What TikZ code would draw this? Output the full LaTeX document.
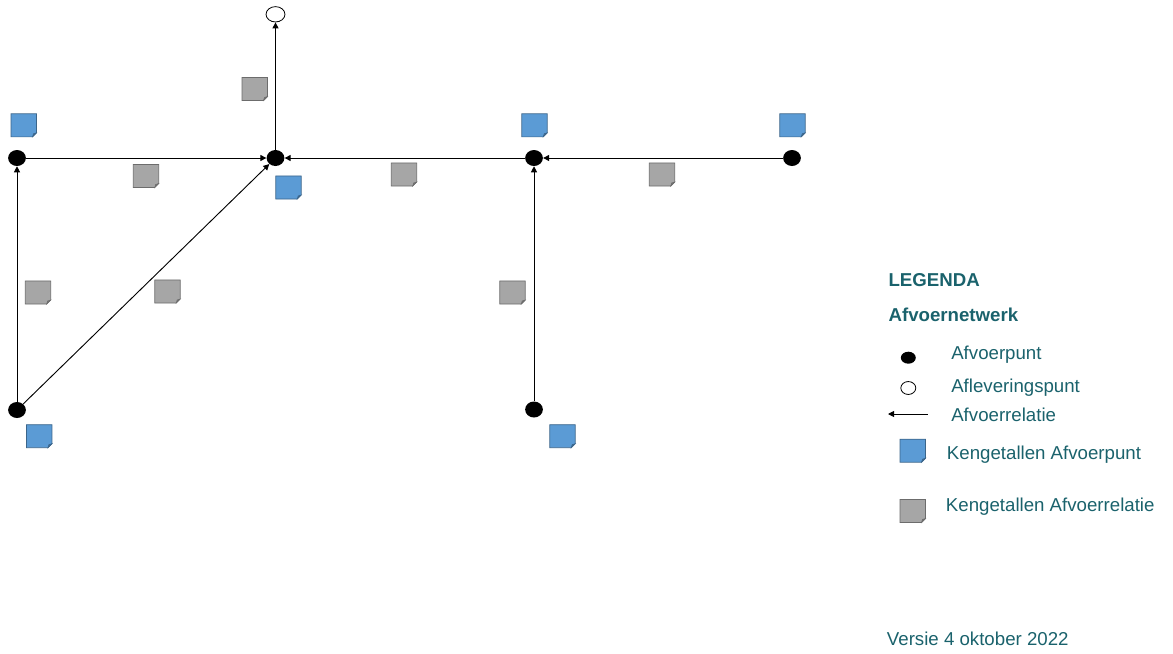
\documentclass[tikz,border=0pt]{standalone}
\usepackage{fontspec}
\setmainfont{Liberation Sans}
\usetikzlibrary{arrows.meta,shapes.geometric}
\definecolor{legendteal}{RGB}{26,98,108}
\definecolor{kpblue}{RGB}{91,155,213}
\definecolor{krgray}{RGB}{166,166,166}
\begin{document}
\begin{tikzpicture}[x=0.75pt,y=-0.75pt,
  punt/.style={ellipse,fill=black,inner sep=0pt,minimum width=13.3pt,minimum height=12pt},
  levering/.style={ellipse,draw=black,fill=white,line width=0.6pt,inner sep=0pt,
     minimum width=14.2pt,minimum height=11.5pt},
  relatie/.style={-{Triangle[length=4.5pt,width=4.5pt]},line width=0.7pt},
  kbox/.style={inner sep=0pt,outer sep=0pt,minimum width=19.1pt,minimum height=17.3pt},
  legtext/.style={anchor=base west,inner sep=0pt,text=legendteal,
     font=\fontsize{14pt}{17pt}\selectfont}]
 \useasboundingbox (0,0) rectangle (1173,653);
 % afvoerpunten en afleveringspunt
 \node[punt] (pA) at (17,158) {};
 \node[punt] (pB) at (275.5,158) {};
 \node[punt] (pC) at (534,158) {};
 \node[punt] (pD) at (792,158) {};
 \node[punt] (pE) at (17,410) {};
 \node[punt] (pF) at (534,409.5) {};
 \node[levering] (pG) at (275.5,14.3) {};
 % afvoerrelaties
 \draw[relatie] (pA) -- (pB);
 \draw[relatie] (pC) -- (pB);
 \draw[relatie] (pD) -- (pC);
 \draw[relatie] (pE) -- (pA);
 \draw[relatie] (pE) -- (pB);
 \draw[relatie] (pF) -- (pC);
 \draw[relatie] (pB) -- (pG);
 % kengetallen
 \foreach \nm/\xx/\yy/\col in {kpA/23.8/125.3/kpblue,kpB/288.5/187.5/kpblue,
    kpC/534.5/125.3/kpblue,kpD/792.5/125.3/kpblue,kpE/39.2/436.2/kpblue,
    kpF/562.5/436.2/kpblue,krG/254.8/89/krgray,krA/146/176/krgray,
    krC/404/174.5/krgray,krD/662/174.5/krgray,krE/38/292.5/krgray,
    krB/167.5/291.5/krgray,krF/512.5/292.5/krgray,
    lgkp/912.8/450.7/kpblue,lgkr/912.8/511/krgray}
 {\node[kbox] (\nm) at (\xx,\yy) {};
  \filldraw[fill=\col,draw=\col!65!black,line width=0.5pt] (\nm.north west)
    -- (\nm.north east) -- ([yshift=3pt]\nm.south east)
    -- ([xshift=-3pt]\nm.south east) -- (\nm.south west) -- cycle;
  \filldraw[fill=\col!70!black,draw=\col!65!black,line width=0.4pt]
    ([yshift=3pt]\nm.south east) -- ([xshift=-2.3pt,yshift=2.3pt]\nm.south east)
    -- ([xshift=-3pt]\nm.south east) -- cycle;}
 % legenda
 \node[legtext,font=\fontsize{14pt}{17pt}\selectfont\bfseries] (lgTitel) at (888.3,286.7) {LEGENDA};
 \node[legtext,font=\fontsize{14pt}{17pt}\selectfont\bfseries] (lgNet) at (888.3,321.7) {Afvoernetwerk};
 \node[punt,minimum width=11.2pt,minimum height=9pt] (lgPunt) at (908.3,357.7) {};
 \node[levering,minimum width=11.2pt,minimum height=9.7pt] (lgLev) at (908.3,388) {};
 \coordinate (lgRa) at (927.7,414);
 \coordinate (lgRb) at (888,414);
 \draw[relatie] (lgRa) -- (lgRb);
 \node[legtext] (lgTPunt) at (951,359.3) {Afvoerpunt};
 \node[legtext] (lgTLev) at (951,392.7) {Afleveringspunt};
 \node[legtext] (lgTRel) at (951,421.7) {Afvoerrelatie};
 \node[legtext] (lgTKp) at (946.7,459) {Kengetallen Afvoerpunt};
 \node[legtext] (lgTKr) at (945.7,511.7) {Kengetallen Afvoerrelatie};
 \node[legtext] (versie) at (886.7,645) {Versie 4 oktober 2022};
\end{tikzpicture}
\end{document}
